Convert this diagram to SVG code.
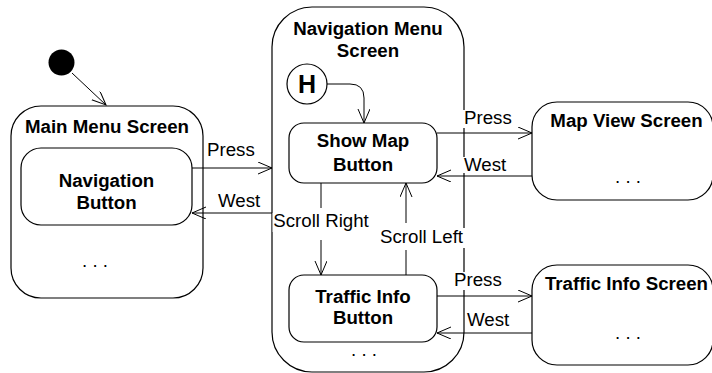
<svg xmlns="http://www.w3.org/2000/svg" width="712" height="373" viewBox="0 0 712 373">
<defs>
<marker id="arr" markerWidth="16" markerHeight="14" refX="14" refY="6" orient="auto" markerUnits="userSpaceOnUse">
<path d="M0,0 L14,6 L0,12" fill="none" stroke="#000" stroke-width="1"/>
</marker>
<style>
.box{fill:#fff;stroke:#000;stroke-width:1.2}
.t{font-family:"Liberation Sans",Arial,sans-serif;font-size:18.7px;fill:#000}
.b{font-weight:bold;text-anchor:middle}
.c{text-anchor:middle}
.h{font-size:25px;font-weight:bold;text-anchor:middle}
.ln{fill:none;stroke:#000;stroke-width:1}
.bg{fill:#fff;stroke:none}
</style>
</defs>
<rect width="712" height="373" fill="#fff"/>

<g id="initial">
<circle cx="61.5" cy="62.5" r="13" fill="#000"/>
</g>

<g id="main-menu-screen">
<rect class="box" x="11" y="106" width="192" height="192" rx="30"/>
<text class="t b" x="107" y="133">Main Menu Screen</text>
<text class="t c" x="95" y="267">. . .</text>
</g>
<g id="navigation-button">
<rect class="box" x="21" y="148" width="171" height="77" rx="20"/>
<text class="t b" x="106.5" y="187">Navigation</text>
<text class="t b" x="106.5" y="209">Button</text>
</g>

<g id="navigation-menu-screen">
<rect class="box" x="272" y="7" width="192" height="365" rx="40"/>
<text class="t b" x="368" y="35">Navigation Menu</text>
<text class="t b" x="368" y="57">Screen</text>
<text class="t c" x="364" y="356">. . .</text>
</g>
<g id="history">
<circle cx="307" cy="84" r="20" fill="#fff" stroke="#000" stroke-width="1.2"/>
<text class="t h" x="307" y="93">H</text>
</g>
<g id="show-map-button">
<rect class="box" x="289" y="123" width="148" height="60" rx="15"/>
<text class="t b" x="363" y="147">Show Map</text>
<text class="t b" x="363" y="171">Button</text>
</g>
<g id="traffic-info-button">
<rect class="box" x="289" y="275" width="148" height="67" rx="15"/>
<text class="t b" x="363" y="303">Traffic Info</text>
<text class="t b" x="363" y="324">Button</text>
</g>

<g id="map-view-screen">
<rect class="box" x="532" y="102" width="181" height="98" rx="25"/>
<text class="t b" x="626.5" y="127">Map View Screen</text>
<text class="t c" x="628" y="183">. . .</text>
</g>
<g id="traffic-info-screen">
<rect class="box" x="532" y="265" width="181" height="100" rx="25"/>
<text class="t b" x="626.5" y="290">Traffic Info Screen</text>
<text class="t c" x="628" y="339">. . .</text>
</g>

<g id="connectors">
<line class="ln" x1="72" y1="73" x2="106" y2="105" marker-end="url(#arr)"/>
<path class="ln" d="M327,84 H350 Q364,84 364,98 V123" marker-end="url(#arr)"/>

<line class="ln" x1="192" y1="168" x2="272" y2="168" marker-end="url(#arr)"/>
<line class="ln" x1="272" y1="213" x2="192" y2="213" marker-end="url(#arr)"/>
<rect class="bg" x="206" y="141" width="50" height="19"/>
<text class="t" x="207" y="156">Press</text>
<rect class="bg" x="217" y="192" width="47" height="19"/>
<text class="t" x="218" y="207">West</text>

<line class="ln" x1="321" y1="183" x2="321" y2="208"/>
<line class="ln" x1="321" y1="240" x2="321" y2="275" marker-end="url(#arr)"/>
<rect class="bg" x="272.6" y="213" width="98" height="19"/>
<text class="t c" x="321" y="227">Scroll Right</text>

<line class="ln" x1="406" y1="275" x2="406" y2="250"/>
<line class="ln" x1="406" y1="223" x2="406" y2="183" marker-end="url(#arr)"/>
<rect class="bg" x="379" y="228" width="86" height="20"/>
<text class="t c" x="421.5" y="243">Scroll Left</text>

<line class="ln" x1="437" y1="133" x2="532" y2="133" marker-end="url(#arr)"/>
<line class="ln" x1="532" y1="176" x2="437" y2="176" marker-end="url(#arr)"/>
<rect class="bg" x="463" y="110" width="50" height="18"/>
<text class="t" x="464" y="124">Press</text>
<rect class="bg" x="463" y="157" width="45" height="16"/>
<text class="t" x="464" y="171">West</text>

<line class="ln" x1="437" y1="296" x2="532" y2="296" marker-end="url(#arr)"/>
<line class="ln" x1="532" y1="333" x2="437" y2="333" marker-end="url(#arr)"/>
<rect class="bg" x="453" y="272" width="50" height="18"/>
<text class="t" x="454" y="286">Press</text>
<rect class="bg" x="466" y="312" width="45" height="17"/>
<text class="t" x="467" y="326">West</text>
</g>
</svg>
